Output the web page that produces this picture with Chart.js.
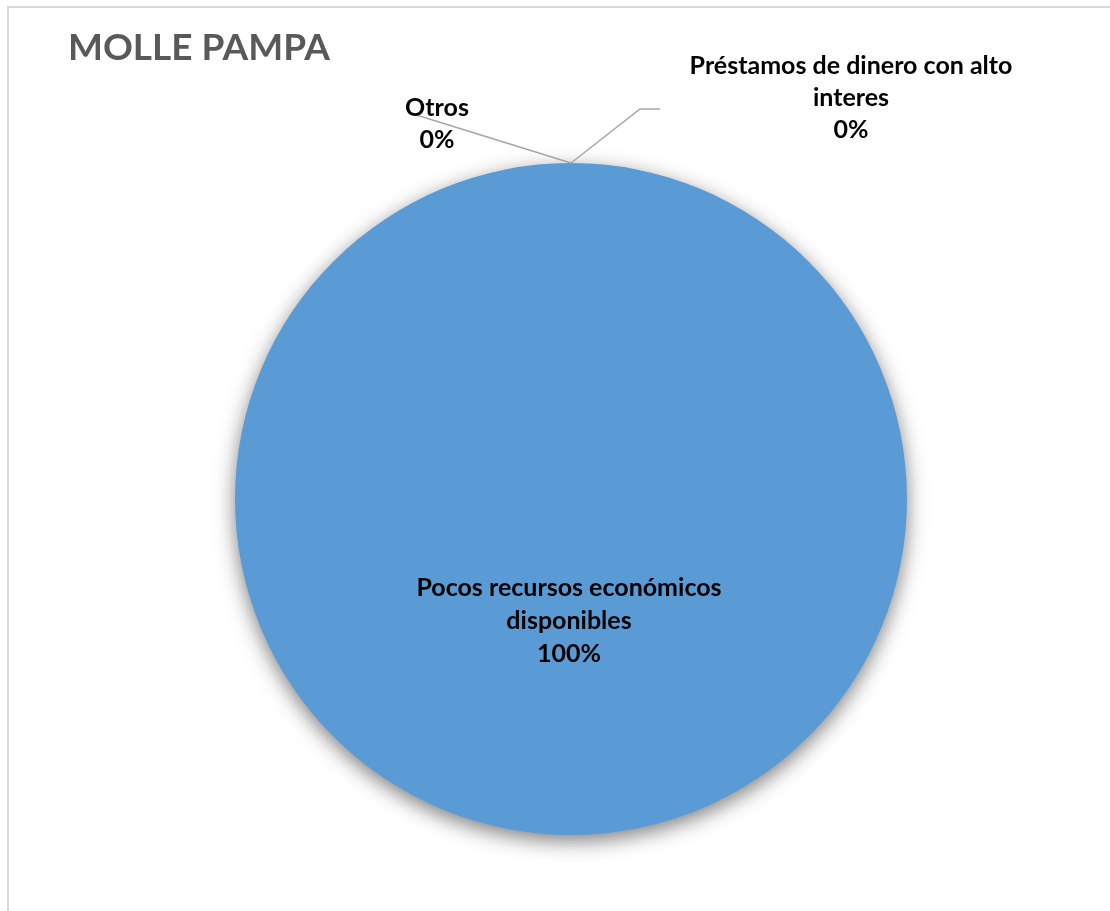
<!DOCTYPE html>
<html lang="es">
<head>
<meta charset="UTF-8">
<title>MOLLE PAMPA</title>
<script src="https://cdn.jsdelivr.net/npm/chart.js"></script>
<style>
  body { margin: 0; background: #fff; }
  #wrap { position: relative; width: 1110px; height: 911px; overflow: hidden; }
  #frame { position: absolute; left: 7px; top: 6px; right: -10px; bottom: -10px;
           border-left: 2px solid #d9d9d9; border-top: 2px solid #d9d9d9; }
  canvas { position: absolute; left: 0; top: 0; }
</style>
</head>
<body>
<div id="wrap">
  <div id="frame"></div>
  <canvas id="chart_pie" width="1110" height="911"></canvas>
</div>
<script>
  // datos
  const chartTitle = 'MOLLE PAMPA';
  const categories = [
    ['Pocos recursos económicos', 'disponibles'],
    ['Otros'],
    ['Préstamos de dinero con alto', 'interes']
  ];
  const values = [100, 0, 0];
  const percentLabels = ['100%', '0%', '0%'];

  const labelFont = 'bold 25px Lato';

  // sombra bajo el pastel
  const shadowPlugin = {
    id: 'shadow',
    beforeDatasetsDraw(chart) {
      const ctx = chart.ctx;
      ctx.save();
      ctx.shadowColor = 'rgba(0,0,0,0.5)';
      ctx.shadowBlur = 20;
      ctx.shadowOffsetY = 6;
    },
    afterDatasetsDraw(chart) {
      chart.ctx.restore();
    }
  };

  // titulo y etiquetas con lineas guia
  const labelPlugin = {
    id: 'pieLabels',
    afterDraw(chart) {
      const ctx = chart.ctx;
      const arcs = chart.getDatasetMeta(0).data;
      ctx.save();
      ctx.font = 'bold 37px Lato';
      ctx.fillStyle = '#595959';
      ctx.textAlign = 'left';
      ctx.textBaseline = 'alphabetic';
      ctx.fillText(chartTitle, 68, 60);

      ctx.font = labelFont;
      ctx.fillStyle = '#000';
      ctx.textAlign = 'center';
      ctx.textBaseline = 'middle';
      const lh = 33;

      arcs.forEach((arc, i) => {
        const p = arc.getProps(['x', 'y', 'startAngle', 'endAngle', 'outerRadius'], true);
        const lines = categories[i].concat([percentLabels[i]]);
        if (values[i] === 100) {
          const tx = p.x - 2;
          const ty = p.y + 89;
          lines.forEach((t, k) => ctx.fillText(t, tx, ty + k * lh));
          return;
        }
        const ax = p.x + Math.cos(p.startAngle) * p.outerRadius;
        const ay = p.y + Math.sin(p.startAngle) * p.outerRadius;
        ctx.strokeStyle = '#a6a6a6';
        ctx.lineWidth = 1.5;
        ctx.beginPath();
        if (i === 1) {
          ctx.moveTo(ax, ay);
          ctx.lineTo(ax - 161, ay - 50);
          ctx.stroke();
          lines.forEach((t, k) => ctx.fillText(t, ax - 134, ay - 55 + k * 32));
        } else {
          ctx.moveTo(ax, ay);
          ctx.lineTo(ax + 69, ay - 54);
          ctx.lineTo(ax + 89, ay - 54);
          ctx.stroke();
          lines.forEach((t, k) => ctx.fillText(t, ax + 280, ay - 97 + k * 32));
        }
      });
      ctx.restore();
    }
  };

  const ctx = document.getElementById('chart_pie').getContext('2d');
  new Chart(ctx, {
    type: 'pie',
    data: {
      labels: categories.map(c => c.join(' ')),
      datasets: [{
        data: values,
        backgroundColor: ['#5b9bd5', '#ed7d31', '#a5a5a5'],
        borderWidth: 0
      }]
    },
    options: {
      responsive: false,
      animation: false,
      layout: { padding: { top: 163, bottom: 76, left: 235, right: 203 } },
      plugins: {
        legend: { display: false },
        title: { display: false },
        tooltip: { enabled: false }
      }
    },
    plugins: [shadowPlugin, labelPlugin]
  });
</script>
</body>
</html>
